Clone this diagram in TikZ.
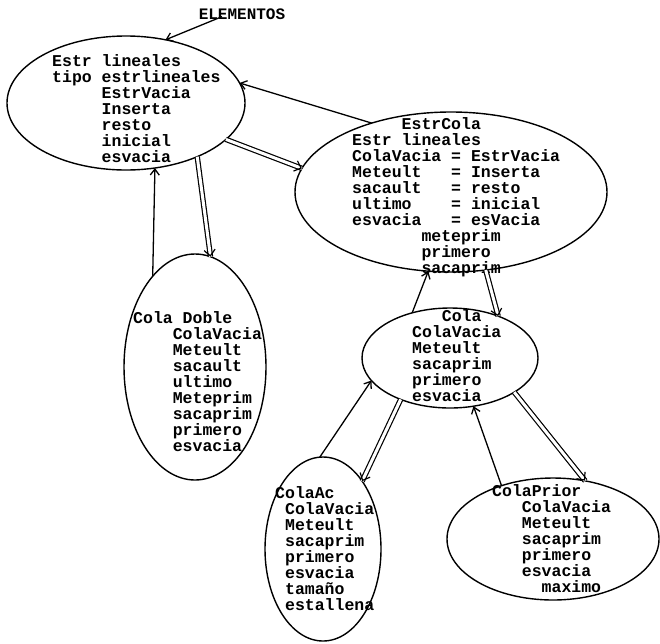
\documentclass[tikz,border=0pt]{standalone}
\usepackage{fontspec}
\setmonofont{Liberation Mono}
\usetikzlibrary{shapes}
\usetikzlibrary{arrows.meta}
\usetikzlibrary{decorations.markings}
\tikzset{
    tipo/.style = {ellipse, line width=1.4pt, draw=black, inner sep=0pt, outer sep=0pt},
    ops/.style = {align=left, anchor=north west, inner sep=0pt, font=\ttfamily\bfseries\fontsize{16.5}{16}\selectfont},
    edgen/.style = {line width=1.3pt, black, -{Straight Barb[length=6pt,width=9pt]}}, % uses
    edged/.style = {line width=1.2pt, black, double, double distance=3pt,
        decoration={markings, mark=at position 1 with {\arrow[line width=1.2pt]{Straight Barb[length=6pt,width=11pt]}}},
        postaction={decorate}} % inherits
}

\begin{document}
\begin{tikzpicture}[x=1pt,y=-1pt]
%
\node[tipo, minimum width=238pt, minimum height=134pt] at (126,103) (lin) {};
\node[tipo, minimum width=312pt, minimum height=160pt] at (451,192) (estr) {};
\node[tipo, minimum width=142pt, minimum height=226pt] at (195,367) (doble) {};
\node[tipo, minimum width=176pt, minimum height=100pt] at (450,358) (cola) {};
\node[tipo, minimum width=116pt, minimum height=184pt] at (323,549) (ac) {};
\node[tipo, minimum width=212pt, minimum height=122pt] at (553,539) (prior) {};
%
\node[ops, anchor=center, font=\ttfamily\bfseries\fontsize{16}{16}\selectfont] at (242,14) (elem) {ELEMENTOS};
\node[ops] at (52,54) (linops) {Estr lineales\\tipo estrlineales\\~~~~~EstrVacia\\~~~~~Inserta\\~~~~~resto\\~~~~~inicial\\~~~~~esvacia};
\node[ops] at (352,117) (estrops) {~~~~~EstrCola\\Estr lineales\\ColaVacia = EstrVacia\\Meteult~~~= Inserta\\sacault~~~= resto\\ultimo~~~~= inicial\\esvacia~~~= esVacia\\~~~~~~~meteprim\\~~~~~~~primero\\~~~~~~~sacaprim};
\node[ops] at (133,311) (dobleops) {Cola Doble\\~~~~ColaVacia\\~~~~Meteult\\~~~~sacault\\~~~~ultimo\\~~~~Meteprim\\~~~~sacaprim\\~~~~primero\\~~~~esvacia};
\node[ops] at (412,309) (colaops) {~~~Cola\\ColaVacia\\Meteult\\sacaprim\\primero\\esvacia};
\node[ops] at (275,486) (acops) {ColaAc\\~ColaVacia\\~Meteult\\~sacaprim\\~primero\\~esvacia\\~tamaño\\~estallena};
\node[ops] at (492,484) (priorops) {ColaPrior\\~~~ColaVacia\\~~~Meteult\\~~~sacaprim\\~~~primero\\~~~esvacia\\~~~~~maximo};
%
\draw[edgen] ([xshift=-20pt,yshift=3pt]elem.south) -- (lin.58);
\draw[edgen] (estr.139) -- (lin.10);
\draw[edged] (lin.-20) -- (estr.171);
\draw[edgen] (doble.115) -- (lin.-66);
\draw[edged] (lin.-37) -- (doble.82);
\draw[edgen] (cola.130) -- (estr.-106);
\draw[edged] (estr.-66) -- (cola.41);
\draw[edgen] (ac.92) -- (cola.196);
\draw[edged] (cola.220) -- (ac.60);
\draw[edgen] (prior.134) -- (cola.-64);
\draw[edged] (cola.-28) -- (prior.61);

\path[use as bounding box] (0,0) rectangle (660,643);

\end{tikzpicture}
\end{document}
